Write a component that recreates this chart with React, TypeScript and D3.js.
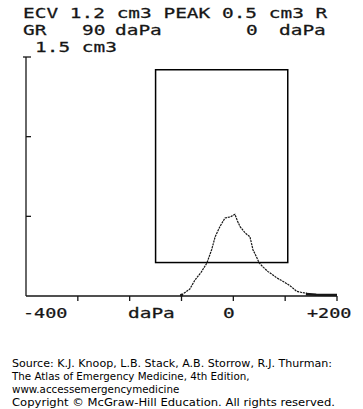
import React from "react";
import * as d3 from "d3";

const W = 363;
const H = 409;

// Header text (printer output)
const headerLine1 = ["ECV 1.2 cm3 PEAK 0.5 cm3 R"];
const headerLine2 = ["GR", "90", "daPa", "0", "daPa"];
const headerLine3 = ["1.5 cm3"];

// Axes
const xTicks = [-400, -300, -200, -100, 0, 100, 200];
const yTicks = [0.5, 1.0, 1.5];
const xTickLabels = ["-400", "daPa", "0", "+200"];

// Normal region box (daPa, cm3)
const boxPressure = [-150, 105];
const boxCompliance = [0.21, 1.42];

// Tympanogram curve: pressure (daPa), compliance (cm3)
const curvePressure = [-100, -84, -74, -62, -51, -42, -35, -26, -16, -6, 3, 8, 13, 23, 32, 38, 44, 50, 58, 67, 75, 84, 97, 110, 122, 132, 142];
const curveCompliance = [0.006, 0.044, 0.1, 0.15, 0.207, 0.289, 0.372, 0.435, 0.49, 0.496, 0.513, 0.47, 0.435, 0.395, 0.372, 0.289, 0.25, 0.207, 0.18, 0.153, 0.135, 0.113, 0.09, 0.063, 0.03, 0.022, 0.017];
const tailPressure = [140, 160, 200];
const tailCompliance = [0.012, 0.008, 0.006];

const sourceLines = [
  "Source: K.J. Knoop, L.B. Stack, A.B. Storrow, R.J. Thurman:",
  "The Atlas of Emergency Medicine, 4th Edition,",
  "www.accessemergencymedicine",
  "Copyright © McGraw-Hill Education. All rights reserved.",
];
const sourceWidths = [320, 0, 0, 323];

export default function App() {
  const x = d3.scaleLinear().domain([-400, 200]).range([26, 337]);
  const y = d3.scaleLinear().domain([0, 1.5]).range([296, 57]);

  const line = d3
    .line<[number, number]>()
    .x((d) => x(d[0]))
    .y((d) => y(d[1]));

  const curve: [number, number][] = curvePressure.map((p, i) => [p, curveCompliance[i]]);
  const tail: [number, number][] = tailPressure.map((p, i) => [p, tailCompliance[i]]);

  const mono = "'DejaVu Sans Mono', monospace";
  const ink = "#161616";
  const sx = 1.42;
  const fs = 13.7;

  const headerText = (t: string, px: number, py: number, key: string) => (
    <text
      key={key}
      transform={`translate(${px},${py}) scale(${sx},1)`}
      fontFamily={mono}
      fontSize={fs}
      fill={ink}
      stroke={ink}
      strokeWidth={0.25}
      xmlSpace="preserve"
    >
      {t}
    </text>
  );

  const line2X = [23, 82, 115, 246, 279];
  const xLabelX = [23, 128, 223, 307];

  return (
    <svg
      width={W}
      height={H}
      style={{ position: "absolute", left: 0, top: 0, background: "#fff" }}
    >
      <rect x={0} y={0} width={W} height={H} fill="#fff" />
      {headerText(headerLine1[0], 23, 18, "h1")}
      {headerLine2.map((t, i) => headerText(t, line2X[i], 35, "h2" + i))}
      {headerText(headerLine3[0], 35, 52, "h3")}

      {/* y axis */}
      <line x1={x(-400)} x2={x(-400)} y1={y(1.5)} y2={y(0)} stroke={ink} strokeWidth={1.3} />
      {yTicks.map((t) => (
        <line
          key={"yt" + t}
          x1={t === 1.5 ? x(-400) - 3 : x(-400)}
          x2={x(-400) + 5}
          y1={y(t)}
          y2={y(t)}
          stroke={ink}
          strokeWidth={1.3}
        />
      ))}

      {/* x axis */}
      <line x1={x(-400)} x2={x(200)} y1={y(0)} y2={y(0)} stroke={ink} strokeWidth={1.5} />
      {xTicks.slice(1).map((t) => (
        <line key={"xt" + t} x1={x(t)} x2={x(t)} y1={y(0)} y2={y(0) + 5} stroke={ink} strokeWidth={1.3} />
      ))}
      {xTickLabels.map((t, i) => (
        <text
          key={"xl" + i}
          transform={`translate(${xLabelX[i]},318) scale(${sx * (t.length === 4 && i !== 1 ? 0.95 : 1)},1)`}
          fontFamily={mono}
          fontSize={fs}
          fill={ink}
          stroke={ink}
          strokeWidth={0.25}
        >
          {t}
        </text>
      ))}

      {/* normal box */}
      <rect
        x={x(boxPressure[0])}
        y={y(boxCompliance[1])}
        width={x(boxPressure[1]) - x(boxPressure[0])}
        height={y(boxCompliance[0]) - y(boxCompliance[1])}
        fill="none"
        stroke="#000"
        strokeWidth={1.5}
      />

      {/* tympanogram */}
      <path d={line(curve) || ""} fill="none" stroke={ink} strokeWidth={1.2} strokeDasharray="2.2 0.8" />
      <path d={line(tail) || ""} fill="none" stroke={ink} strokeWidth={2.6} />
      <circle cx={x(curvePressure[0])} cy={y(curveCompliance[0])} r={1.6} fill={ink} />

      {/* source */}
      {sourceLines.map((t, i) => (
        <text
          key={"s" + i}
          x={12}
          y={367 + i * 13}
          fontFamily="'DejaVu Sans', Verdana, sans-serif"
          fontSize={10.3}
          fill="#000"
          {...(sourceWidths[i] ? { textLength: sourceWidths[i], lengthAdjust: "spacingAndGlyphs" } : {})}
        >
          {t}
        </text>
      ))}
    </svg>
  );
}
